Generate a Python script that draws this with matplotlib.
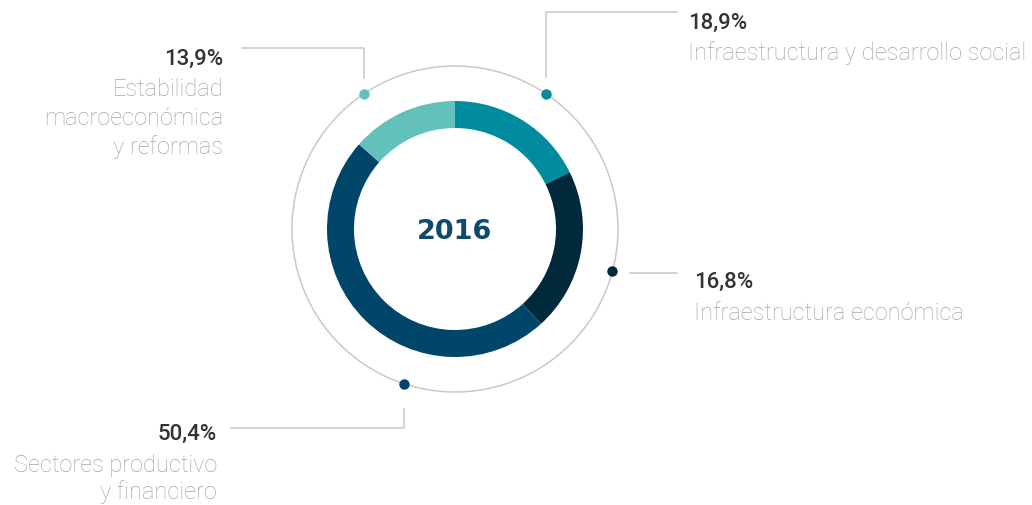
import numpy as np
import matplotlib
matplotlib.use("Agg")
import matplotlib.pyplot as plt
from matplotlib.patches import Circle

# data
categories = ["Infraestructura y desarrollo social", "Infraestructura económica",
              "Sectores productivo\ny financiero", "Estabilidad\nmacroeconómica\ny reformas"]
share_labels = ["18,9%", "16,8%", "50,4%", "13,9%"]
# arc sizes as drawn in the ring of the picture (%)
arc_shares = [17.7, 20.6, 48.2, 13.5]
year = "2016"

colors = ["#008b9e", "#00293b", "#00466a", "#62c1b9"]
dot_angles = [33.8, 105.0, 198.4, 326.0]  # degrees clockwise from top

W, H = 1032, 505
cx, cy = 455, H - 229
r_ring, ring_w, r_outer = 128, 27, 163

plt.rcParams['font.family'] = ['Roboto', 'DejaVu Sans']

fig = plt.figure(figsize=(W / 100, H / 100), dpi=100)
ax = fig.add_axes([0, 0, 1, 1])

ax.add_patch(Circle((cx, cy), r_outer, fill=False, edgecolor="#c9c9c9", linewidth=1.1))
ax.pie(arc_shares, colors=colors, startangle=90, counterclock=False, radius=r_ring,
       center=(cx, cy), wedgeprops=dict(width=ring_w, linewidth=0))

# dots on outer circle
dots = []
for ang, col in zip(dot_angles, colors):
    t = np.deg2rad(ang)
    x, y = cx + r_outer * np.sin(t), cy + r_outer * np.cos(t)
    dots.append((x, y))
    ax.plot(x, y, 'o', color=col, markersize=7.5, markeredgewidth=0, zorder=5)

line_kw = dict(color="#c9c9c9", linewidth=1.1)

# leader lines (elbows in pixel coords, y measured from top)
d = dots[0]
ax.plot([d[0], d[0], 677], [H - 77, H - 12, H - 12], **line_kw)
ax.plot([630, 677], [H - 273, H - 273], **line_kw)
d = dots[2]
ax.plot([d[0], d[0], 231], [H - 409, H - 428, H - 428], **line_kw)
d = dots[3]
ax.plot([d[0], d[0], 242], [H - 78, H - 48, H - 48], **line_kw)

# labels: (x, ha, pct baseline, first label baseline, line step)
label_pos = [(688, 'left', 29, 60, 29),
             (694, 'left', 288, 320, 29),
             (217, 'right', 440, 472, 27),
             (223, 'right', 65, 96, 29)]
for (x, ha, yp, yl, step), pct, cat in zip(label_pos, share_labels, categories):
    ax.text(x, H - yp, pct, ha=ha, va='baseline', fontsize=16, color="#333333",
            fontweight='medium')
    for i, line in enumerate(cat.split("\n")):
        ax.text(x, H - yl - i * step, line, ha=ha, va='baseline', fontsize=17,
                color="#a6a6a6", fontweight='light')

ax.text(cx, H - 239, year, ha='center', va='baseline', fontsize=19.5,
        fontweight='bold', color="#0d4a6b", family='DejaVu Sans')

ax.set_xlim(0, W)
ax.set_ylim(0, H)
ax.set_aspect('equal')
ax.axis('off')

plt.savefig("out.png", dpi=100)
